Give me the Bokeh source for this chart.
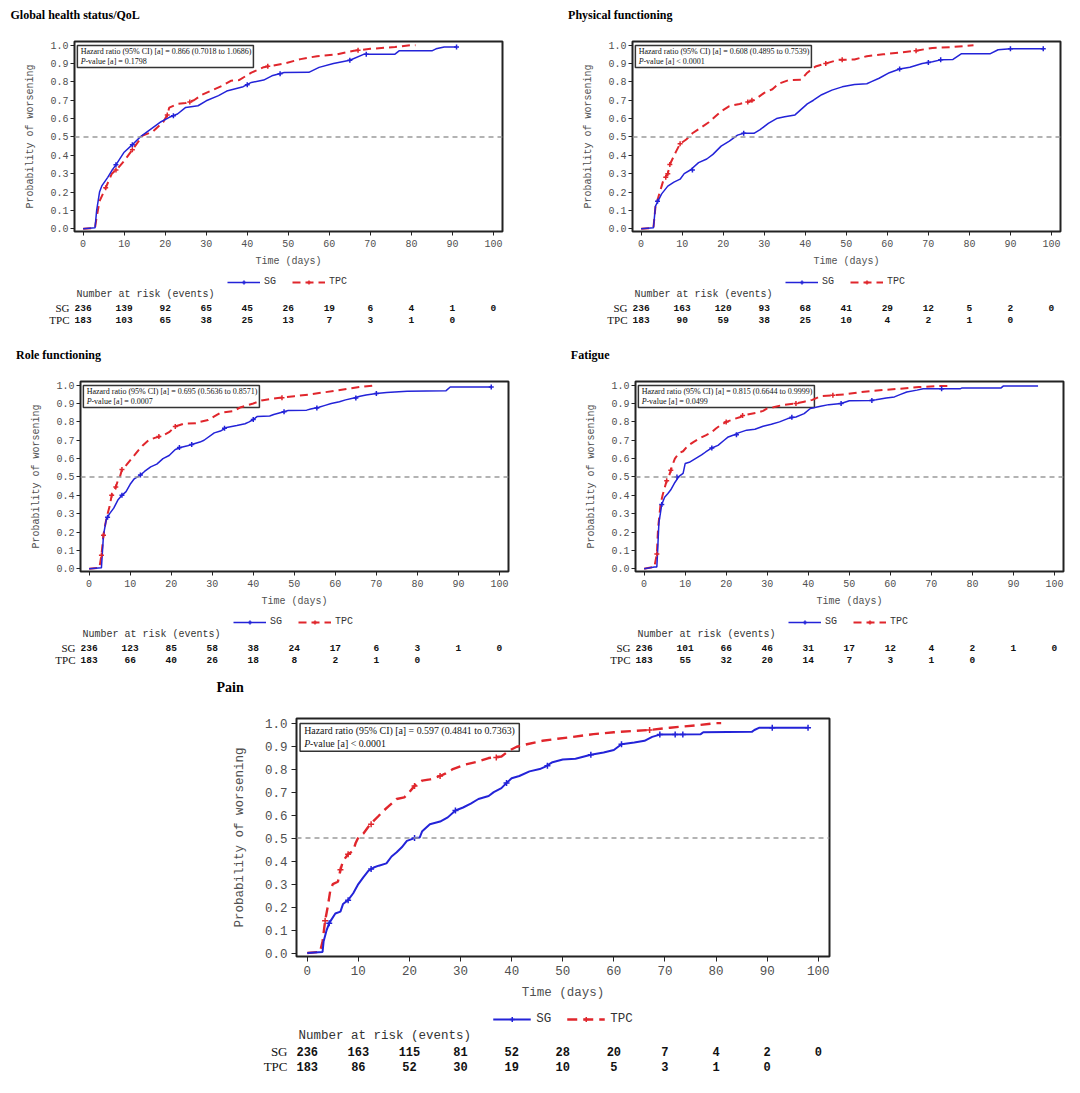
import numpy as np
from bokeh.plotting import figure
from bokeh.layouts import column, row
from bokeh.models import Range1d, FixedTicker, NumeralTickFormatter, Span, Legend, LegendItem, Title
from bokeh.core.properties import value
from bokeh.embed import file_html
from bokeh.resources import INLINE

# ---------------- data ----------------
TIME_TICKS = list(range(0, 101, 10))
PROB_TICKS = [round(i * 0.1, 1) for i in range(11)]

TITLES = ["Global health status/QoL", "Physical functioning", "Role functioning", "Fatigue", "Pain"]

HR_TEXT = [
    "Hazard ratio (95% CI) [a] = 0.866 (0.7018 to 1.0686)",
    "Hazard ratio (95% CI) [a] = 0.608 (0.4895 to 0.7539)",
    "Hazard ratio (95% CI) [a] = 0.695 (0.5636 to 0.8571)",
    "Hazard ratio (95% CI) [a] = 0.815 (0.6644 to 0.9999)",
    "Hazard ratio (95% CI) [a] = 0.597 (0.4841 to 0.7363)",
]
P_TEXT = ["-value [a] = 0.1798", "-value [a] < 0.0001", "-value [a] = 0.0007",
          "-value [a] = 0.0499", "-value [a]  < 0.0001"]

# (time in days, probability of worsening)
GHS_SG = [(0, 0), (2.9, 0.005), (3.3, 0.1), (4.0, 0.2), (4.6, 0.235), (6, 0.28), (7, 0.317), (8, 0.348),
          (10, 0.417), (12, 0.458), (14, 0.502), (16.5, 0.543), (19, 0.583), (21, 0.607), (23, 0.625),
          (25, 0.661), (28, 0.67), (30, 0.697), (33, 0.725), (35, 0.75), (39, 0.774), (41, 0.797),
          (44, 0.81), (46, 0.833), (49, 0.851), (55, 0.852), (57.5, 0.879), (61, 0.90), (65, 0.918),
          (68.5, 0.951), (76, 0.951), (77, 0.969), (85, 0.969), (86, 0.98), (88, 0.99), (91, 0.99)]
GHS_TPC = [(0, 0), (2.9, 0.005), (3.2, 0.05), (4, 0.15), (5.5, 0.223), (7, 0.30), (8.5, 0.33), (10, 0.37),
           (12, 0.43), (14.5, 0.507), (17, 0.53), (19.5, 0.58), (20.5, 0.62), (21, 0.66), (23, 0.68),
           (25, 0.685), (27, 0.70), (29, 0.73), (31, 0.75), (34, 0.78), (36, 0.806), (38, 0.81),
           (41, 0.85), (44, 0.88), (49, 0.90), (53, 0.924), (57, 0.94), (62, 0.95), (66, 0.97),
           (70, 0.98), (76, 0.99), (80, 1.0), (81, 1.0)]
GHS_SG_CENS = [(8, 0.348), (12, 0.458), (22, 0.615), (40, 0.785), (48, 0.845), (65, 0.918), (69, 0.951), (91, 0.99)]
GHS_TPC_CENS = [(5.5, 0.223), (8, 0.32), (12, 0.43), (20.5, 0.62), (26, 0.69), (45, 0.885), (67, 0.972)]

PF_SG = [(0, 0), (3, 0.005), (3.5, 0.123), (5, 0.19), (6.5, 0.232), (8, 0.254), (9.5, 0.27), (10.5, 0.30),
         (12, 0.32), (14, 0.36), (16, 0.38), (17.5, 0.405), (19.5, 0.45), (21.5, 0.477), (23.5, 0.51),
         (25, 0.52), (27.5, 0.52), (29, 0.54), (31, 0.574), (33, 0.60), (35, 0.61), (37.5, 0.62),
         (39, 0.65), (40.5, 0.68), (42, 0.70), (44, 0.73), (46.5, 0.755), (49, 0.773), (52, 0.786),
         (55, 0.79), (56, 0.80), (58, 0.82), (60.5, 0.85), (63, 0.87), (65.5, 0.88), (68.5, 0.90),
         (71, 0.91), (73, 0.92), (76, 0.922), (78, 0.953), (85, 0.953), (87, 0.975), (90, 0.98), (98, 0.98)]
PF_TPC = [(0, 0), (3, 0.005), (3.5, 0.12), (5, 0.232), (5.5, 0.27), (6.5, 0.30), (7, 0.35), (8.5, 0.42),
          (9.5, 0.463), (11, 0.486), (12.5, 0.52), (14.5, 0.55), (16.5, 0.58), (18, 0.61), (19.5, 0.64),
          (21.5, 0.668), (24, 0.68), (26, 0.69), (27.5, 0.70), (30, 0.74), (32, 0.76), (33.5, 0.79),
          (36, 0.81), (39, 0.812), (40.5, 0.85), (42.5, 0.884), (45, 0.90), (48, 0.92), (52, 0.922),
          (55, 0.94), (59, 0.95), (63, 0.96), (67, 0.97), (71, 0.985), (76, 0.99), (81, 1.0)]
PF_SG_CENS = [(4, 0.15), (12.5, 0.32), (25, 0.52), (63, 0.87), (70, 0.905), (73, 0.92), (90, 0.98), (98, 0.98)]
PF_TPC_CENS = [(6, 0.28), (6.5, 0.30), (7, 0.35), (9.5, 0.463), (26, 0.69), (27, 0.70), (45, 0.90), (49, 0.92), (67, 0.97)]

RF_SG = [(0, 0), (3, 0.005), (3.5, 0.183), (4.2, 0.27), (5, 0.30), (6, 0.33), (7, 0.374), (8, 0.40), (9, 0.42),
         (10, 0.46), (11, 0.49), (12.5, 0.51), (13.5, 0.53), (15, 0.555), (16.5, 0.57), (18, 0.60),
         (19.5, 0.617), (21, 0.65), (22.5, 0.662), (24, 0.67), (25, 0.677), (27, 0.69), (28, 0.70),
         (30.5, 0.74), (32, 0.75), (33.5, 0.77), (36, 0.78), (38, 0.79), (39, 0.80), (40, 0.813),
         (41, 0.83), (44, 0.832), (45, 0.84), (47, 0.853), (48.5, 0.862), (53, 0.864), (54, 0.87),
         (56, 0.88), (57.5, 0.89), (59, 0.90), (61, 0.91), (62.5, 0.92), (64.5, 0.93), (66, 0.94),
         (67.5, 0.947), (70, 0.955), (72.5, 0.96), (77.5, 0.967), (87, 0.97), (88, 0.99), (98, 0.99)]
RF_TPC = [(0, 0), (2.5, 0.005), (3, 0.074), (3.5, 0.183), (4, 0.25), (4.5, 0.30), (5, 0.34), (5.5, 0.40),
          (6.5, 0.445), (7, 0.48), (7.5, 0.50), (8, 0.54), (9, 0.563), (10, 0.59), (11, 0.617), (12, 0.645),
          (13, 0.67), (14.5, 0.70), (16, 0.713), (18, 0.726), (19.5, 0.744), (21, 0.775), (23, 0.79),
          (26, 0.792), (27, 0.80), (29, 0.81), (30.5, 0.83), (32, 0.85), (35, 0.858), (37, 0.88),
          (40, 0.90), (42, 0.917), (46, 0.93), (50, 0.94), (54, 0.95), (57, 0.96), (60, 0.97), (63, 0.98),
          (66, 0.99), (70, 1.0)]
RF_SG_CENS = [(4.5, 0.28), (8, 0.40), (12.5, 0.51), (22, 0.66), (25, 0.677), (33, 0.765), (40, 0.813),
              (47.5, 0.855), (55.5, 0.875), (65, 0.93), (70, 0.955), (98, 0.99)]
RF_TPC_CENS = [(3, 0.074), (3.5, 0.183), (5.5, 0.40), (6.5, 0.445), (8, 0.54), (17, 0.72), (21, 0.775), (47, 0.932)]

FA_SG = [(0, 0), (2.5, 0.01), (3.1, 0.01), (3.3, 0.1), (3.6, 0.25), (4.3, 0.35), (5, 0.39), (5.8, 0.41),
         (6.5, 0.43), (7.5, 0.47), (8.5, 0.503), (9.5, 0.52), (10, 0.573), (11, 0.58), (12.5, 0.60),
         (14, 0.62), (15, 0.636), (16.5, 0.658), (18, 0.672), (19.5, 0.70), (20.5, 0.718), (22, 0.73),
         (23, 0.74), (25, 0.755), (27, 0.76), (29, 0.776), (31, 0.787), (33, 0.80), (35, 0.818),
         (37, 0.827), (39, 0.845), (40.5, 0.873), (43, 0.885), (45, 0.894), (48, 0.90), (50, 0.915),
         (55, 0.916), (56.5, 0.92), (59, 0.93), (61, 0.936), (62.5, 0.95), (64, 0.963), (66.5, 0.973),
         (68, 0.98), (77, 0.98), (77.5, 0.985), (87, 0.985), (87.5, 0.995), (96, 0.995)]
FA_TPC = [(0, 0), (2.5, 0.01), (3.1, 0.08), (3.4, 0.22), (4, 0.35), (4.5, 0.40), (5.5, 0.48), (6, 0.50),
          (6.5, 0.536), (7, 0.57), (7.5, 0.60), (8.5, 0.63), (9.5, 0.64), (10.5, 0.667), (12, 0.69),
          (13.5, 0.71), (15, 0.727), (16.5, 0.745), (17.5, 0.764), (18.5, 0.78), (20, 0.80), (22, 0.816),
          (23.5, 0.827), (25, 0.84), (27.5, 0.85), (29, 0.86), (30, 0.873), (31.5, 0.88), (34, 0.893),
          (37, 0.90), (39, 0.91), (41, 0.92), (43, 0.94), (46, 0.945), (49, 0.95), (52, 0.96), (56, 0.97),
          (62, 0.98), (67, 0.99), (72, 0.995), (74, 0.995)]
FA_SG_CENS = [(4.3, 0.35), (8, 0.50), (16.5, 0.658), (22.5, 0.73), (36, 0.825), (48, 0.90), (55.5, 0.916), (72.5, 0.98)]
FA_TPC_CENS = [(3.1, 0.08), (5.5, 0.48), (6.5, 0.536), (20, 0.80), (24, 0.835), (37, 0.90), (46, 0.945)]

PA_SG = [(0, 0), (3, 0.005), (3.2, 0.05), (3.8, 0.10), (4.3, 0.13), (5.5, 0.172), (6.5, 0.18), (7, 0.213),
         (8, 0.23), (9, 0.26), (10, 0.30), (11, 0.33), (12, 0.358), (13, 0.372), (14, 0.38), (15.5, 0.39),
         (16.5, 0.42), (17.5, 0.438), (18.5, 0.46), (19.5, 0.488), (21, 0.50), (22, 0.502), (22.5, 0.53),
         (24, 0.56), (26, 0.572), (27.5, 0.59), (29, 0.62), (30.5, 0.633), (32, 0.65), (33.5, 0.67),
         (35.5, 0.683), (36.5, 0.70), (38, 0.717), (39, 0.74), (40, 0.76), (41.5, 0.77), (43.5, 0.79),
         (45.5, 0.80), (46.5, 0.81), (48, 0.83), (50, 0.842), (52.5, 0.845), (54, 0.854), (55.5, 0.862),
         (58, 0.872), (60, 0.883), (61.5, 0.908), (64, 0.916), (66, 0.923), (67.5, 0.94), (69, 0.95),
         (77, 0.952), (77.5, 0.96), (87, 0.962), (87.5, 0.97), (88.5, 0.98), (98, 0.98)]
PA_TPC = [(0, 0), (2.5, 0.005), (3, 0.05), (3.5, 0.14), (4, 0.20), (4.5, 0.27), (5, 0.30), (6, 0.31),
          (6.5, 0.362), (7, 0.40), (8, 0.43), (9, 0.445), (9.5, 0.48), (10, 0.503), (11, 0.52), (12, 0.55),
          (13, 0.575), (14, 0.597), (15, 0.62), (16, 0.64), (17.5, 0.67), (19, 0.677), (20, 0.70),
          (21, 0.727), (22.5, 0.75), (24, 0.755), (26, 0.77), (27, 0.78), (28.5, 0.80), (31, 0.82),
          (33.5, 0.833), (35.5, 0.848), (38, 0.855), (39.5, 0.88), (41, 0.897), (43, 0.908), (46, 0.923),
          (49, 0.932), (52, 0.94), (56, 0.952), (60, 0.96), (64, 0.966), (67, 0.97), (71, 0.98),
          (76, 0.99), (80, 1.0), (81, 1.0)]
PA_SG_CENS = [(4.3, 0.13), (8, 0.23), (12.5, 0.365), (21, 0.50), (29, 0.62), (39, 0.74), (47, 0.815),
              (55.5, 0.862), (61.5, 0.908), (69, 0.95), (72, 0.95), (73.5, 0.95), (91, 0.98), (98, 0.98)]
PA_TPC_CENS = [(3.5, 0.14), (6.5, 0.362), (8, 0.43), (12.5, 0.56), (21, 0.727), (26, 0.77), (37, 0.85), (67, 0.97)]

# number at risk at days 0, 10, 20, ...
RISK_SG = [
    [236, 139, 92, 65, 45, 26, 19, 6, 4, 1, 0],
    [236, 163, 120, 93, 68, 41, 29, 12, 5, 2, 0],
    [236, 123, 85, 58, 38, 24, 17, 6, 3, 1, 0],
    [236, 101, 66, 46, 31, 17, 12, 4, 2, 1, 0],
    [236, 163, 115, 81, 52, 28, 20, 7, 4, 2, 0],
]
RISK_TPC = [
    [183, 103, 65, 38, 25, 13, 7, 3, 1, 0],
    [183, 90, 59, 38, 25, 10, 4, 2, 1, 0],
    [183, 66, 40, 26, 18, 8, 2, 1, 0],
    [183, 55, 32, 20, 14, 7, 3, 1, 0],
    [183, 86, 52, 30, 19, 10, 5, 3, 1, 0],
]

CURVES = [
    (GHS_SG, GHS_TPC, GHS_SG_CENS, GHS_TPC_CENS),
    (PF_SG, PF_TPC, PF_SG_CENS, PF_TPC_CENS),
    (RF_SG, RF_TPC, RF_SG_CENS, RF_TPC_CENS),
    (FA_SG, FA_TPC, FA_SG_CENS, FA_TPC_CENS),
    (PA_SG, PA_TPC, PA_SG_CENS, PA_TPC_CENS),
]

# ---------------- style / layout ----------------
MONO = "Liberation Mono"
SERIF = "Liberation Serif"
BLUE = "#2323d8"
RED = "#e0262c"
GREY_TXT = "#505050"
X_START, X_END = -2.1, 102.2
Y_START, Y_END = -0.015, 1.02

SMALL = dict(W=540, frame_w=428, title_fs="12px", spacer_standoff=4, frame_top=41, frame_bottom=231,
             bottom_border=42, legend_y=282, nar_y=294, sg_y=307, tpc_y=319, fs=10, num_fs="9.5px",
             row_fs="11px", hr_fs=8.0, tick_out=4, y_standoff=2, y_lab_standoff=11, x_standoff=4,
             x_lab_standoff=6, glyph_w=33, lab_standoff=4, spacing=8, row_standoff=5, ms=5,
             lw_sg=1.5, lw_tpc=2.0, dash="8 5")
BIG = dict(W=1080, frame_w=533, title_fs="14px", spacer_standoff=8, frame_top=48, frame_bottom=286,
           bottom_border=52, legend_y=350, nar_y=365, sg_y=381, tpc_y=396, fs=12.5, num_fs="12px",
           row_fs="13px", hr_fs=9.9, tick_out=5, y_standoff=4, y_lab_standoff=15, x_standoff=4,
           x_lab_standoff=8, glyph_w=38, lab_standoff=6, spacing=10, row_standoff=9, ms=6,
           lw_sg=2.0, lw_tpc=2.4, dash="10 6")

PANEL_GEOM = [
    dict(SMALL, left=74, title_x=10, block_h=340),
    dict(SMALL, left=92, title_x=27.6, block_h=340),
    dict(SMALL, left=80, title_x=15.5, block_h=330),
    dict(SMALL, left=95, title_x=30.3, block_h=330),
    dict(BIG, left=296, title_x=216, block_h=423),
]


def unzip(pts):
    return [a for a, _ in pts], [b for _, b in pts]


def style_axis(ax, g):
    ax.axis_line_color = None
    ax.major_tick_out = g["tick_out"]
    ax.major_tick_in = 0
    ax.minor_tick_out = 0
    ax.minor_tick_in = 0
    ax.major_tick_line_color = "#222222"
    ax.major_label_text_font = MONO
    ax.major_label_text_font_size = f"{g['fs']}px"
    ax.major_label_text_color = GREY_TXT
    ax.axis_label_text_font = MONO
    ax.axis_label_text_font_size = f"{g['fs']}px"
    ax.axis_label_text_font_style = "normal"
    ax.axis_label_text_color = GREY_TXT


def build(i, g):
    W, L, FW = g["W"], g["left"], g["frame_w"]
    R = W - L - FW
    sg, tpc, sgc, tpcc = CURVES[i]

    # Kaplan-Meier plot (with panel title)
    fb, ft, bb = g["frame_bottom"], g["frame_top"], g["bottom_border"]
    p = figure(width=W, height=fb + bb, x_range=Range1d(X_START, X_END), y_range=Range1d(Y_START, Y_END),
               min_border_left=L, min_border_right=R, min_border_top=ft, min_border_bottom=bb,
               toolbar_location=None, output_backend="svg", title=None)
    # empty spacer title closest to the frame, then the real panel title above it
    p.add_layout(Title(text=" ", text_font_size="12px", standoff=g["spacer_standoff"]), "above")
    p.add_layout(Title(text=TITLES[i], align="left", offset=g["title_x"] - L, standoff=0,
                       text_font=SERIF, text_font_style="bold", text_font_size=g["title_fs"],
                       text_color="black"), "above")
    p.grid.visible = False
    p.outline_line_color = "#222222"
    p.outline_line_width = 2
    p.xaxis.ticker = FixedTicker(ticks=TIME_TICKS)
    p.yaxis.ticker = FixedTicker(ticks=PROB_TICKS)
    p.yaxis.formatter = NumeralTickFormatter(format="0.0")
    p.xaxis.axis_label = "Time (days)"
    p.yaxis.axis_label = "Probability of worsening"
    style_axis(p.xaxis[0], g)
    style_axis(p.yaxis[0], g)
    p.xaxis.major_label_standoff = g["x_standoff"]
    p.xaxis.axis_label_standoff = g["x_lab_standoff"]
    p.yaxis.major_label_standoff = g["y_standoff"]
    p.yaxis.axis_label_standoff = g["y_lab_standoff"]

    p.add_layout(Span(location=0.5, dimension="width", line_color="#9a9a9a", line_dash="5 4", line_width=1.5))

    p.quad(left=[-1.4], right=[41.5], bottom=[0.878], top=[0.998], fill_color="white",
           line_color="#333333", line_width=1.5)
    hfs = g["hr_fs"]
    p.text(x=[-0.6], y=[0.966], text=[HR_TEXT[i]], text_font=value(SERIF), text_font_size=f"{hfs}px",
           text_baseline="middle", text_align="left", text_color="#111111")
    p.text(x=[-0.6], y=[0.912], text=["P"], text_font=value(SERIF), text_font_style=value("italic"),
           text_font_size=f"{hfs}px", text_baseline="middle", text_align="left", text_color="#111111")
    p.text(x=[-0.6], y=[0.912], x_offset=round(hfs * 0.6, 1), text=[P_TEXT[i]], text_font=value(SERIF),
           text_font_size=f"{hfs}px", text_baseline="middle", text_align="left", text_color="#111111")

    tx, ty = unzip(tpc)
    p.line(tx, ty, line_color=RED, line_width=g["lw_tpc"], line_dash=g["dash"])
    sx, sy = unzip(sg)
    p.line(sx, sy, line_color=BLUE, line_width=g["lw_sg"])
    cx, cy = unzip(tpcc)
    p.scatter(cx, cy, marker="cross", size=g["ms"], line_color=RED, line_width=1.5)
    cx, cy = unzip(sgc)
    p.scatter(cx, cy, marker="cross", size=g["ms"], line_color=BLUE, line_width=1.5)

    # legend + number at risk table
    tt = fb + bb
    bh = g["block_h"]
    t = figure(width=W, height=bh - tt, x_range=p.x_range, y_range=Range1d(bh, tt),
               min_border_left=L, min_border_right=R, min_border_top=0, min_border_bottom=0,
               x_axis_location=None, toolbar_location=None, output_backend="svg", outline_line_color=None)
    t.grid.visible = False
    ya = t.yaxis[0]
    ya.ticker = FixedTicker(ticks=[g["sg_y"], g["tpc_y"]])
    ya.major_label_overrides = {g["sg_y"]: "SG", g["tpc_y"]: "TPC"}
    ya.axis_line_color = None
    ya.major_tick_out = 0
    ya.major_tick_in = 0
    ya.minor_tick_out = 0
    ya.minor_tick_in = 0
    ya.major_label_standoff = g["row_standoff"]
    ya.major_label_text_font = SERIF
    ya.major_label_text_font_size = g["row_fs"]
    ya.major_label_text_color = "#111111"

    fs = g["fs"]
    t.text(x=[X_START], y=[g["nar_y"]], x_offset=2, text=["Number at risk (events)"], text_font=value(MONO),
           text_font_size=f"{fs}px", text_baseline="middle", text_align="left", text_color="#333333")
    rs = RISK_SG[i]
    t.text(x=TIME_TICKS[:len(rs)], y=[g["sg_y"]] * len(rs), text=[str(v) for v in rs], text_font=value(MONO),
           text_font_style=value("bold"), text_font_size=g["num_fs"], text_baseline="middle",
           text_align="center", text_color="#111111")
    rt = RISK_TPC[i]
    t.text(x=TIME_TICKS[:len(rt)], y=[g["tpc_y"]] * len(rt), text=[str(v) for v in rt], text_font=value(MONO),
           text_font_style=value("bold"), text_font_size=g["num_fs"], text_baseline="middle",
           text_align="center", text_color="#111111")

    nan = np.array([np.nan])
    l1 = t.line(x=nan, y=nan, line_color=BLUE, line_width=g["lw_sg"])
    m1 = t.scatter(x=nan, y=nan, marker="cross", size=g["ms"] + 1, line_color=BLUE, line_width=1.5)
    l2 = t.line(x=nan, y=nan, line_color=RED, line_width=g["lw_tpc"], line_dash=g["dash"])
    m2 = t.scatter(x=nan, y=nan, marker="cross", size=g["ms"] + 1, line_color=RED, line_width=1.5)
    margin = int(round(g["legend_y"] - tt - fs * 0.6))
    leg = Legend(items=[LegendItem(label="SG", renderers=[l1, m1]), LegendItem(label="TPC", renderers=[l2, m2])],
                 orientation="horizontal", location="top_center", margin=max(margin, 0), padding=0,
                 spacing=g["spacing"], glyph_width=g["glyph_w"], glyph_height=int(fs), label_height=int(fs),
                 label_standoff=g["lab_standoff"], label_text_font=MONO, label_text_font_size=f"{fs}px",
                 label_text_color="#333333", border_line_color=None, background_fill_alpha=0)
    t.add_layout(leg)

    return column(p, t, spacing=0)


blocks = [build(i, g) for i, g in enumerate(PANEL_GEOM)]
layout = column(row(blocks[0], blocks[1], spacing=0), row(blocks[2], blocks[3], spacing=0), blocks[4], spacing=0)

open("out.html", "w").write(file_html(layout, INLINE))
